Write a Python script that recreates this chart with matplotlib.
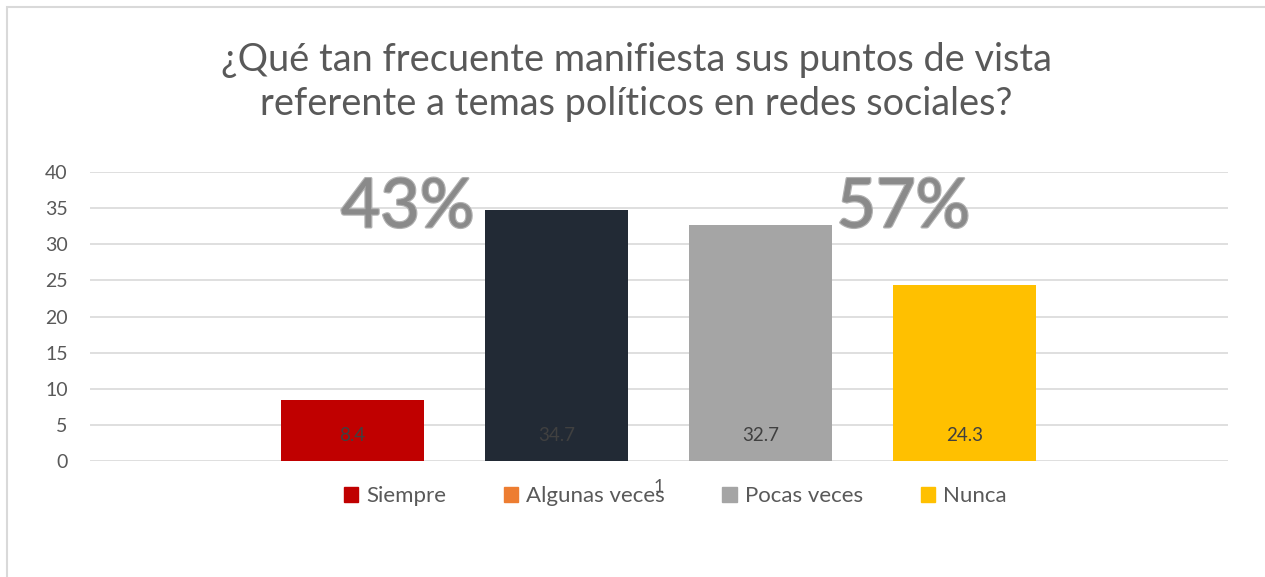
import matplotlib
matplotlib.use("Agg")
import matplotlib.pyplot as plt
import matplotlib.patheffects as pe
from matplotlib.patches import Rectangle

plt.rcParams['font.family'] = ['Lato', 'DejaVu Sans']

categorias = ["Siempre", "Algunas veces", "Pocas veces", "Nunca"]
valores = [8.4, 34.7, 32.7, 24.3]
colores_barra = ["#C00000", "#222A35", "#A5A5A5", "#FFC000"]
colores_leyenda = ["#C00000", "#ED7D31", "#A5A5A5", "#FFC000"]
grupos = ["43%", "57%"]
yticks = [0, 5, 10, 15, 20, 25, 30, 35, 40]

titulo = "¿Qué tan frecuente manifiesta sus puntos de vista\nreferente a temas políticos en redes sociales?"
gris = "#595959"

fig = plt.figure(figsize=(12.65, 5.77), dpi=100)
ax = fig.add_axes([0.0711, 0.2010, 0.8997, 0.5009])

# marco del grafico
fig.patches.append(Rectangle((6.5 / 1265, -0.1), 1.2, 1.1 - 7 / 577,
                             transform=fig.transFigure, fill=False,
                             edgecolor="#D9D9D9", linewidth=1.5))

x = list(range(len(valores)))
bars = ax.bar(x, valores, width=0.70, color=colores_barra, zorder=2)

for xi, v in zip(x, valores):
    ax.text(xi, 3.6, f"{v}", ha="center", va="center", fontsize=13.5,
            color="#404040", zorder=3)

ax.set_xlim(-1.287, 4.292)
ax.set_ylim(0, 40)
ax.set_yticks(yticks)
ax.set_xticks([])
ax.tick_params(axis="y", length=0, pad=16, labelsize=14, labelcolor=gris)
ax.grid(axis="y", color="#D9D9D9", linewidth=1.2, zorder=0)
for s in ax.spines.values():
    s.set_visible(False)

# porcentajes grandes
efecto = [pe.withStroke(linewidth=2, foreground="#B0B0B0"),
          pe.SimpleLineShadow(offset=(1.5, -1.5), shadow_color="#606060", alpha=0.6),
          pe.Normal()]
ax.text(0.27, 35.0, grupos[0], ha="center", va="center", fontsize=49,
        color="#8A8A8A", path_effects=efecto, zorder=4)
ax.text(2.70, 35.0, grupos[1], ha="center", va="center", fontsize=49,
        color="#8A8A8A", path_effects=efecto, zorder=4)

fig.text(0.503, 0.858, titulo, ha="center", va="center", fontsize=27.3,
         color=gris, linespacing=1.3)

handles = [Rectangle((0, 0), 1, 1, color=c) for c in colores_leyenda]
leg = fig.legend(handles, categorias, loc="center", bbox_to_anchor=(0.5336, 0.140),
                 ncol=4, frameon=False, fontsize=16, handlelength=0.65,
                 handleheight=0.65, handletextpad=0.35, columnspacing=2.6)
for t in leg.get_texts():
    t.set_color(gris)

fig.text(659 / 1265, 1 - 487 / 577, "1", ha="center", va="center",
         fontsize=13, color=gris)

fig.savefig("out.png", dpi=100)
